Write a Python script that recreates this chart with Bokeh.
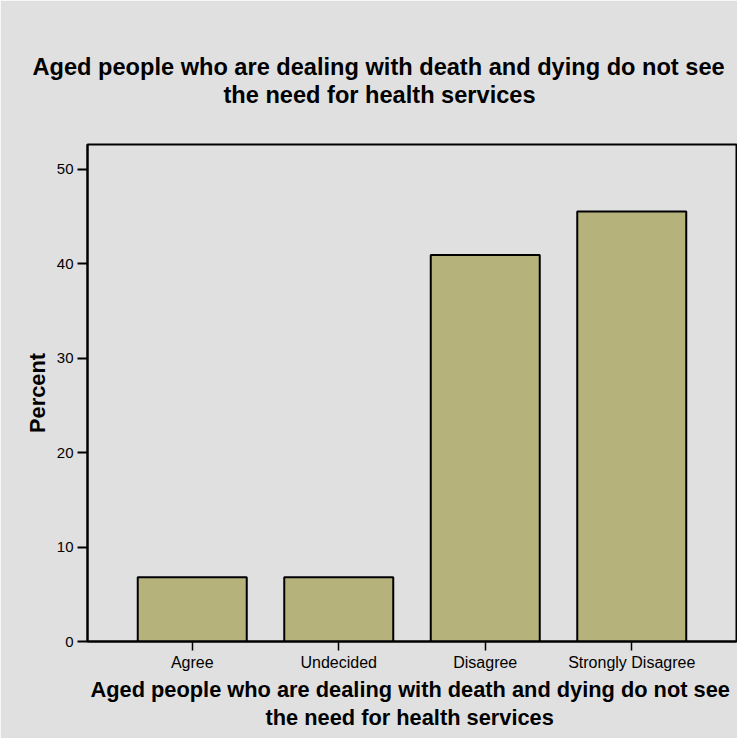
from bokeh.plotting import figure
from bokeh.models import FactorRange, Range1d, Title
from bokeh.embed import file_html
from bokeh.resources import INLINE

categories = ["Agree", "Undecided", "Disagree", "Strongly Disagree"]
percent = [6.8, 6.8, 40.9, 45.5]
y_ticks = [0, 10, 20, 30, 40, 50]
title_lines = ["Aged people who are dealing with death and dying do not see",
               "the need for health services"]
x_title_lines = ["Aged people who are dealing with death and dying do not see",
                 "the need for health services"]
y_title = "Percent"

BG = "#e0e0e0"
BAR = "#b5b27b"
FONT = "Liberation Sans"

p = figure(width=737, height=738, output_backend="svg", toolbar_location=None,
           x_range=FactorRange(factors=categories, range_padding=0.1075),
           y_range=Range1d(0, 52.6))
p.min_border_left = 87
p.min_border_right = 1
p.min_border_top = 144
p.min_border_bottom = 97
p.background_fill_color = BG
p.border_fill_color = BG
p.outline_line_color = "black"
p.outline_line_width = 2
p.grid.visible = False

p.vbar(x=categories, top=percent, width=0.744, fill_color=BAR,
       line_color="black", line_width=2)

# y axis
p.yaxis.ticker = y_ticks
p.yaxis.axis_line_width = 2
p.yaxis.axis_line_color = "black"
p.yaxis.major_tick_line_width = 2
p.yaxis.major_tick_out = 10
p.yaxis.major_tick_in = 0
p.yaxis.minor_tick_line_color = None
p.yaxis.major_label_text_font = FONT
p.yaxis.major_label_text_font_size = "15px"
p.yaxis.major_label_text_color = "black"
p.yaxis.major_label_standoff = 4
p.yaxis.axis_label = y_title
p.yaxis.axis_label_text_font = FONT
p.yaxis.axis_label_text_font_style = "bold"
p.yaxis.axis_label_text_font_size = "21.8px"
p.yaxis.axis_label_text_color = "black"
p.yaxis.axis_label_standoff = 4

# x axis
p.xaxis.axis_line_width = 2
p.xaxis.axis_line_color = "black"
p.xaxis.major_tick_line_width = 1.5
p.xaxis.major_tick_out = 9
p.xaxis.major_tick_in = 0
p.xaxis.minor_tick_line_color = None
p.xaxis.major_label_text_font = FONT
p.xaxis.major_label_text_font_size = "16px"
p.xaxis.major_label_text_color = "black"
p.xaxis.major_label_standoff = 3

# spacer between frame and chart title
p.add_layout(Title(text=" ", standoff=34, text_font_size="1px"), "above")
# chart title (two lines), added nearest-first
p.add_layout(Title(text=title_lines[1], align="left", offset=136, standoff=0,
                   text_font=FONT, text_font_style="bold", text_font_size="23.6px",
                   text_color="black"), "above")
p.add_layout(Title(text=title_lines[0], align="left", offset=-55, standoff=0,
                   text_font=FONT, text_font_style="bold", text_font_size="23.6px",
                   text_color="black"), "above")

# x axis title (two lines)
p.add_layout(Title(text=x_title_lines[0], align="left", offset=3, standoff=2,
                   text_font=FONT, text_font_style="bold", text_font_size="21.8px",
                   text_color="black"), "below")
p.add_layout(Title(text=x_title_lines[1], align="left", offset=178, standoff=0,
                   text_font=FONT, text_font_style="bold", text_font_size="21.8px",
                   text_color="black"), "below")

open("out.html", "w").write(file_html(p, INLINE))
